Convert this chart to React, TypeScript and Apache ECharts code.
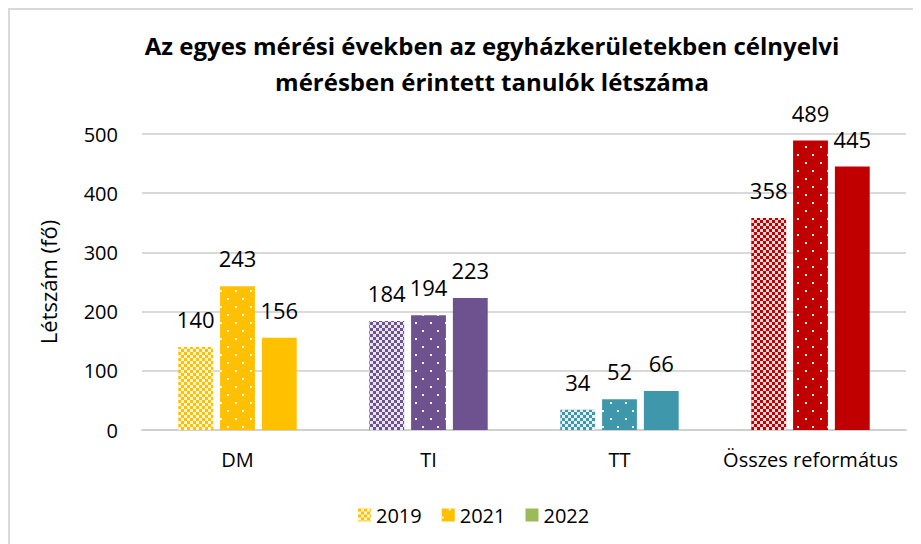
import React, { useEffect, useRef } from "react";
import * as echarts from "echarts";

const categories = ["DM", "TI", "TT", "Összes református"];
const years = ["2019", "2021", "2022"];
const values2019 = [140, 184, 34, 358];
const values2021 = [243, 194, 52, 489];
const values2022 = [156, 223, 66, 445];
const categoryColors = ["#FFC000", "#6E5290", "#3E97AB", "#C00000"];
const legendColors = ["#FFC000", "#FFC000", "#9BBB59"];
const titleLines = [
  "Az egyes mérési években az egyházkerületekben célnyelvi",
  "mérésben érintett tanulók létszáma",
];
const yAxisName = "Létszám (fő)";

const FONT = "'Open Sans', 'Noto Sans', sans-serif";

const decalChecker = {
  symbol: "rect",
  symbolSize: 1,
  color: "rgba(255,255,255,0.85)",
  dashArrayX: [
    [3, 3],
    [0, 3, 3, 0],
  ],
  dashArrayY: [3, 0],
  rotation: 0,
};

const decalDots = {
  symbol: "rect",
  symbolSize: 1,
  color: "rgba(255,255,255,0.95)",
  dashArrayX: [
    [2, 13],
    [0, 7, 2, 6],
  ],
  dashArrayY: [2, 6],
  rotation: 0,
};

const decals: any[] = [decalChecker, decalDots, null];

export default function App() {
  const ref = useRef<HTMLDivElement>(null);
  useEffect(() => {
    if (!ref.current) return;
    const chart = echarts.init(ref.current, undefined, { renderer: "svg" });
    const all = [values2019, values2021, values2022];
    const series = years.map((y, si) => ({
      name: y,
      type: "bar",
      barGap: "20%",
      barCategoryGap: "38%",
      itemStyle: {
        color: legendColors[si],
        decal: decals[si] || undefined,
      },
      label: {
        show: true,
        position: "top",
        distance: 17,
        color: "#000",
        fontSize: 22,
        fontFamily: FONT,
      },
      data: all[si].map((v, ci) => ({
        value: v,
        itemStyle: {
          color: categoryColors[ci],
          decal: decals[si] || undefined,
        },
      })),
    }));
    chart.setOption({
      animation: false,
      title: {
        text: titleLines.join("\n"),
        left: 477,
        top: 12,
        textAlign: "center",
        textStyle: {
          fontFamily: FONT,
          fontWeight: "bold",
          fontSize: 24,
          lineHeight: 36,
          color: "#000",
        },
      },
      legend: {
        data: years,
        bottom: 14,
        left: 343,
        itemWidth: 13,
        itemHeight: 13,
        itemGap: 20,
        icon: "rect",
        textStyle: { fontFamily: FONT, fontSize: 20, color: "#000" },
      },
      grid: { left: 132, right: 15, top: 124, bottom: 114 },
      xAxis: {
        type: "category",
        data: categories,
        axisTick: { show: false },
        axisLine: { lineStyle: { color: "#D0D0D0", width: 2 } },
        axisLabel: { fontFamily: FONT, fontSize: 20, color: "#000", margin: 19, interval: 0 },
      },
      yAxis: {
        type: "value",
        min: 0,
        max: 500,
        interval: 100,
        name: yAxisName,
        nameLocation: "middle",
        nameGap: 83,
        nameRotate: 90,
        nameTextStyle: { fontFamily: FONT, fontSize: 22, color: "#000" },
        axisLabel: { fontFamily: FONT, fontSize: 20, color: "#000", margin: 24 },
        splitLine: { lineStyle: { color: "#D9D9D9", width: 2 } },
        axisLine: { show: false },
        axisTick: { show: false },
      },
      series,
    });
    return () => chart.dispose();
  }, []);
  return (
    <div style={{ borderTop: "2px solid #D9D9D9", borderLeft: "2px solid #D9D9D9", width: 911, height: 534 }}>
      <div ref={ref} style={{ width: 911, height: 534 }} />
    </div>
  );
}
